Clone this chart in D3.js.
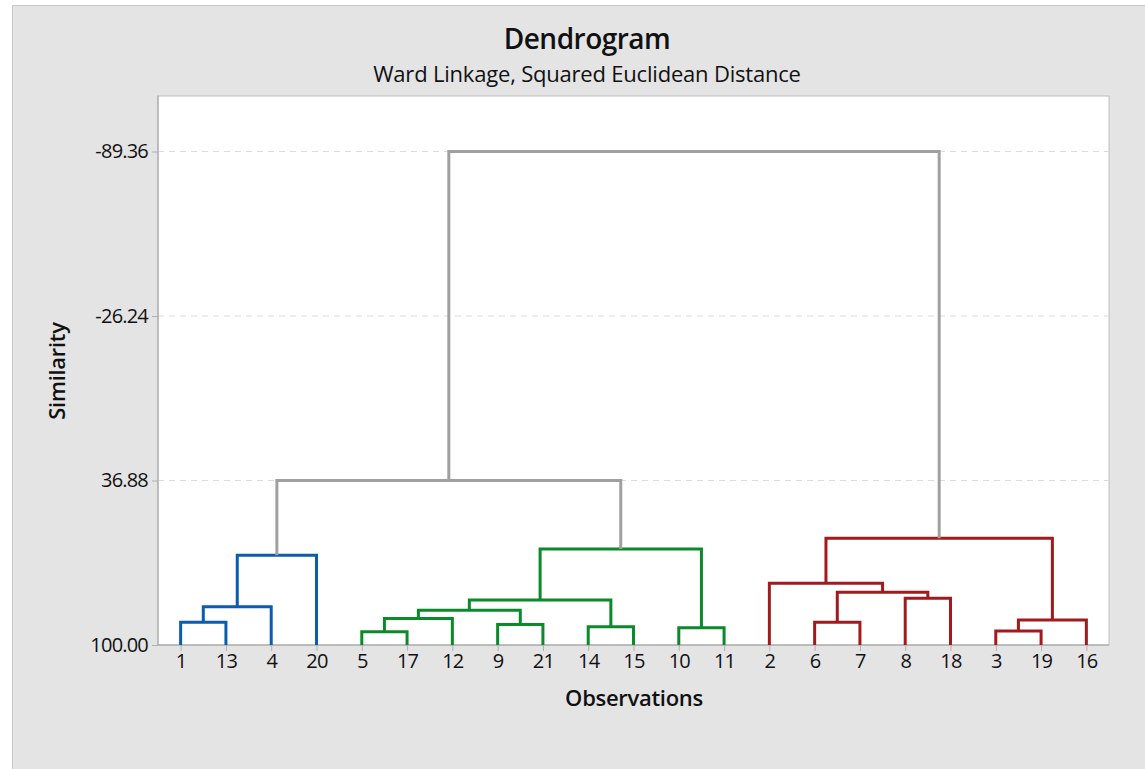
<!DOCTYPE html>
<html>
<head>
<meta charset="utf-8">
<style>
  body { margin: 0; background: #fff; }
  text { font-family: "Open Sans", "Noto Sans", sans-serif; fill: #111; }
  .grid { stroke: #dcdcdc; stroke-width: 1; stroke-dasharray: 6,5; }
  .link { fill: none; stroke-width: 3; }
</style>
</head>
<body>
<svg width="1145" height="769"></svg>
<script src="https://d3js.org/d3.v7.min.js"></script>
<script>
// leaf order along the x axis
var observations = ["1","13","4","20","5","17","12","9","21","14","15","10","11","2","6","7","8","18","3","19","16"];

// linkage rows: [left, right, similarity]; numbers point at earlier rows
var merges = [
  ["1", "13", 91.3],   // 0
  [0, "4", 85.3],      // 1
  [1, "20", 65.6],     // 2
  ["5", "17", 94.9],   // 3
  [3, "12", 89.8],     // 4
  ["9", "21", 92.1],   // 5
  [4, 5, 86.7],        // 6
  ["14", "15", 93.0],  // 7
  [6, 7, 82.7],        // 8
  ["10", "11", 93.4],  // 9
  [8, 9, 63.2],        // 10
  [2, 10, 36.88],      // 11
  ["6", "7", 91.3],    // 12
  ["8", "18", 82.1],   // 13
  [12, 13, 79.8],      // 14
  ["2", 14, 76.3],     // 15
  ["3", "19", 94.6],   // 16
  [16, "16", 90.4],    // 17
  [15, 17, 59.0],      // 18
  [11, 18, -89.36]     // 19
];

var clusters = [
  ["1","13","4","20"],
  ["5","17","12","9","21","14","15","10","11"],
  ["2","6","7","8","18","3","19","16"]
];
var clusterColors = ["#0a5cad", "#0b8a2b", "#a11b1e"];
var linkGrey = "#a0a0a0";

var yTicks = [-89.36, -26.24, 36.88, 100.00];

var W = 1145, H = 769;
var plot = {left: 158, right: 1109, top: 96, bottom: 645};

var svg = d3.select("svg");

// backgrounds
svg.append("rect").attr("x", 12.5).attr("y", 5.5).attr("width", W - 12).attr("height", H - 5)
  .attr("fill", "#e4e4e4").attr("stroke", "#c8c8c8");
svg.append("rect").attr("x", plot.left).attr("y", plot.top)
  .attr("width", plot.right - plot.left).attr("height", plot.bottom - plot.top)
  .attr("fill", "#fff").attr("stroke", "#bdbdbd");

var x = d3.scalePoint().domain(observations).range([plot.left, plot.right]).padding(0.5);
var y = d3.scaleLinear().domain([100, -89.36]).range([plot.bottom, 151.5]);

// gridlines
svg.append("g").selectAll("line")
  .data(yTicks.filter(function(d) { return d !== 100; }))
  .enter().append("line")
  .attr("class", "grid")
  .attr("x1", plot.left).attr("x2", plot.right)
  .attr("y1", function(d) { return y(d); }).attr("y2", function(d) { return y(d); });

// axes
var yAxis = svg.append("g")
  .attr("transform", "translate(" + plot.left + ",0)")
  .call(d3.axisLeft(y).tickValues(yTicks).tickFormat(d3.format(".2f")).tickSizeOuter(0).tickSize(6).tickPadding(4));
var xAxis = svg.append("g")
  .attr("transform", "translate(0," + plot.bottom + ")")
  .call(d3.axisBottom(x).tickSizeOuter(0).tickSize(6).tickPadding(3));

[yAxis, xAxis].forEach(function(a) {
  a.select(".domain").attr("stroke", "#a0a0a0");
  a.selectAll(".tick line").attr("stroke", "#b0b0b0");
  a.selectAll(".tick text").attr("font-size", 20).attr("fill", "#000")
    .style("font-family", "'Open Sans', sans-serif").style("letter-spacing", "-0.8px");
});
yAxis.selectAll(".tick text").text(function(d) { return d3.format(".2f")(d).replace("−", "-"); });
// the top of the y axis line reaches the plot top
yAxis.select(".domain").attr("d", "M0," + (plot.top - 0.5) + "V" + plot.bottom);
xAxis.select(".domain").attr("d", "M" + plot.left + ",0H" + plot.right);

// build nodes from the linkage rows
function leafColor(l) {
  for (var i = 0; i < clusters.length; i++) if (clusters[i].indexOf(l) >= 0) return clusterColors[i];
  return linkGrey;
}
var nodes = [];
function resolve(ref) {
  if (typeof ref === "number") return nodes[ref];
  return {x: x(ref), sim: 100, color: leafColor(ref)};
}
merges.forEach(function(m) {
  var a = resolve(m[0]), b = resolve(m[1]);
  var col = a.color === b.color ? a.color : linkGrey;
  nodes.push({a: a, b: b, sim: m[2], x: (a.x + b.x) / 2, color: col});
});

svg.append("g").selectAll("path")
  .data(nodes)
  .enter().append("path")
  .attr("class", "link")
  .attr("stroke", function(d) { return d.color; })
  .attr("d", function(d) {
    var p = d3.path();
    p.moveTo(d.a.x, y(d.a.sim));
    p.lineTo(d.a.x, y(d.sim));
    p.lineTo(d.b.x, y(d.sim));
    p.lineTo(d.b.x, y(d.b.sim));
    return p.toString();
  });

// titles
svg.append("text").attr("x", 587).attr("y", 49).attr("text-anchor", "middle")
  .attr("font-size", 28).attr("font-weight", 600).style("letter-spacing", "-0.5px").text("Dendrogram");
svg.append("text").attr("x", 587).attr("y", 82).attr("text-anchor", "middle")
  .attr("font-size", 22).style("letter-spacing", "-0.2px").text("Ward Linkage, Squared Euclidean Distance");
svg.append("text").attr("x", 634).attr("y", 706).attr("text-anchor", "middle")
  .attr("font-size", 22).attr("font-weight", 600).style("letter-spacing", "-0.3px").text("Observations");
svg.append("text").attr("transform", "translate(65,371) rotate(-90)").attr("text-anchor", "middle")
  .attr("font-size", 22).attr("font-weight", 600).style("letter-spacing", "-0.3px").text("Similarity");
</script>
</body>
</html>
